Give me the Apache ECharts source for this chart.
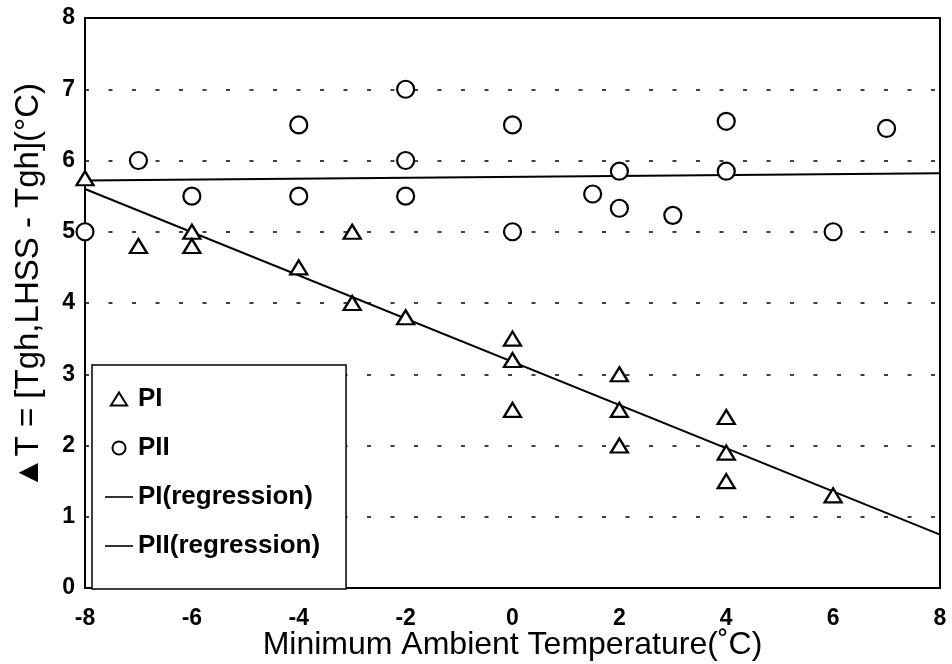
<!DOCTYPE html>
<html lang="en">
<head>
    <meta charset="UTF-8">
    <title>Minimum Ambient Temperature vs ΔT</title>
    <script src="https://cdn.jsdelivr.net/npm/echarts@6/dist/echarts.min.js"></script>
    <style>
        body { margin: 0; background: #fff; }
        #main { width: 952px; height: 664px; }
    </style>
</head>
<body>
    <div id="main"></div>
    <script>
        // PI measurements (triangles)
        const piX = [-8, -7, -6, -6, -4, -3, -3, -2, 0, 0, 0, 2, 2, 2, 4, 4, 4, 6];
        const piY = [5.75, 4.8, 5.0, 4.8, 4.5, 5.0, 4.0, 3.8, 3.5, 3.2, 2.5, 3.0, 2.5, 2.0, 2.4, 1.9, 1.5, 1.3];

        // PII measurements (circles)
        const piiX = [-8, -7, -6, -4, -4, -2, -2, -2, 0, 0, 1.5, 2, 2, 3, 4, 4, 6, 7];
        const piiY = [5.0, 6.0, 5.5, 6.5, 5.5, 7.0, 6.0, 5.5, 6.5, 5.0, 5.53, 5.85, 5.33, 5.23, 6.55, 5.85, 5.0, 6.45];

        // regression lines, end points
        const regX = [-8, 8];
        const piRegY = [5.6, 0.75];
        const piiRegY = [5.72, 5.82];

        const legendNames = ['PI', 'PII', 'PI(regression)', 'PII(regression)'];

        const zip = (xs, ys) => xs.map((x, i) => [x, ys[i]]);

        var myChart = echarts.init(document.getElementById('main'));
        var font = 'Liberation Sans, Arial, sans-serif';

        // legend icons: small open triangle / circle, thin line for the fits
        var icons = [
            'path://M7.5,0L15,12H0Z',
            'path://M7,0A7,7 0 1 1 6.99,0Z',
            'path://M0,0H28V1.6H0Z',
            'path://M0,0H28V1.6H0Z'
        ];

        var option = {
            animation: false,
            backgroundColor: '#fff',
            grid: {
                left: 85, right: 12, top: 18, bottom: 76,
                outerBoundsMode: 'none',
                containLabel: false,
                show: true,
                borderColor: '#000',
                borderWidth: 2
            },
            legend: {
                orient: 'vertical',
                left: 92,
                top: 365,
                backgroundColor: '#fff',
                borderColor: '#000',
                borderWidth: 1.5,
                padding: [21, 26, 30, 13],
                itemGap: 23,
                itemWidth: 28,
                itemHeight: 13,
                symbolKeepAspect: true,
                textStyle: { fontFamily: font, fontWeight: 'bold', fontSize: 26, color: '#000' },
                data: legendNames.map((n, i) => ({ name: n, icon: icons[i] }))
            },
            xAxis: {
                type: 'value',
                min: -8, max: 8, interval: 2,
                name: 'Minimum Ambient Temperature(˚C)',
                nameLocation: 'middle',
                nameGap: 41,
                nameMoveOverlap: false,
                nameTextStyle: { fontFamily: font, fontSize: 32, color: '#000' },
                axisLine: { onZero: false, lineStyle: { color: '#000', width: 2 } },
                axisTick: { show: false },
                splitLine: { show: false },
                axisLabel: { fontFamily: font, fontWeight: 'bold', fontSize: 23, color: '#000', margin: 19 }
            },
            yAxis: {
                type: 'value',
                min: 0, max: 8, interval: 1,
                name: '▲T = [Tgh,LHSS - Tgh](°C)',
                nameLocation: 'middle',
                nameGap: 40,
                nameRotate: 90,
                nameMoveOverlap: false,
                nameTextStyle: { fontFamily: font, fontSize: 33, color: '#000', padding: [0, 0, 0, 34] },
                axisLine: { onZero: false, lineStyle: { color: '#000', width: 2 } },
                axisTick: { show: false },
                splitLine: { lineStyle: { color: '#000', width: 1.5, type: [4, 19.5] } },
                axisLabel: { fontFamily: font, fontWeight: 'bold', fontSize: 23, color: '#000', margin: 10 }
            },
            series: [
                {
                    name: 'PI(regression)',
                    type: 'line',
                    data: zip(regX, piRegY),
                    symbol: 'none',
                    lineStyle: { color: '#000', width: 2 },
                    itemStyle: { color: '#000' },
                    z: 2
                },
                {
                    name: 'PII(regression)',
                    type: 'line',
                    data: zip(regX, piiRegY),
                    symbol: 'none',
                    lineStyle: { color: '#000', width: 2 },
                    itemStyle: { color: '#000' },
                    z: 2
                },
                {
                    name: 'PI',
                    type: 'scatter',
                    data: zip(piX, piY),
                    symbol: 'triangle',
                    symbolSize: [17, 14],
                    itemStyle: { color: '#fff', borderColor: '#000', borderWidth: 2.3, opacity: 1 },
                    z: 3
                },
                {
                    name: 'PII',
                    type: 'scatter',
                    data: zip(piiX, piiY),
                    symbol: 'circle',
                    symbolSize: 17,
                    itemStyle: { color: '#fff', borderColor: '#000', borderWidth: 2.2, opacity: 1 },
                    z: 3
                }
            ]
        };

        myChart.setOption(option);
    </script>
</body>
</html>
